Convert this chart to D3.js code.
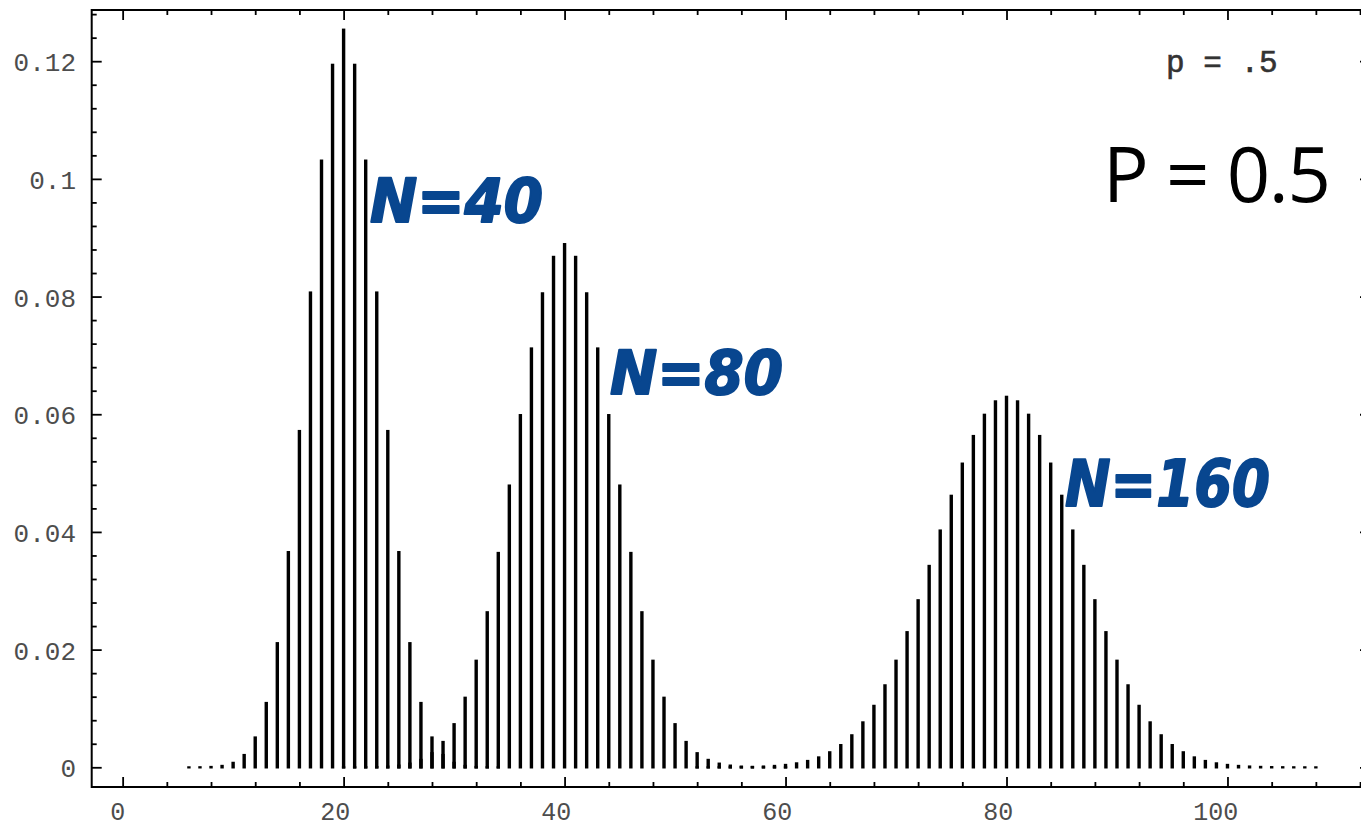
<!DOCTYPE html>
<html>
<head>
<meta charset="utf-8">
<script src="https://cdn.jsdelivr.net/npm/d3@7"></script>
<style>
  body { margin: 0; background: #fff; }
  svg { display: block; }
</style>
</head>
<body>
<div id="chart"></div>
<script>
// binomial probabilities, p = 0.5
const n40First = 6;
const n40Values = [
  0.0000035, 0.0000170, 0.0000699, 0.000249, 0.000771, 0.002103, 0.005081,
  0.010944, 0.021107, 0.036585, 0.057164, 0.080702, 0.103119, 0.119401,
  0.125371,
  0.119401, 0.103119, 0.080702, 0.057164, 0.036585, 0.021107, 0.010944,
  0.005081, 0.002103, 0.000771, 0.000249, 0.0000699, 0.0000170, 0.0000035
];

const n80First = 20;
const n80Values = [
  0.0000029, 0.0000084, 0.0000224, 0.0000565, 0.000134, 0.000301, 0.000636,
  0.001272, 0.002407, 0.004317, 0.007338, 0.011836, 0.018124, 0.026362,
  0.036441, 0.047894, 0.059867, 0.071194, 0.080562, 0.086759,
  0.088928,
  0.086759, 0.080562, 0.071194, 0.059867, 0.047894, 0.036441, 0.026362,
  0.018124, 0.011836, 0.007338, 0.004317, 0.002407, 0.001272, 0.000636,
  0.000301, 0.000134, 0.0000565, 0.0000224, 0.0000084, 0.0000029
];

const n160First = 52;
const n160Values = [
  0.0000030, 0.0000061, 0.0000122, 0.0000235, 0.0000440, 0.0000803, 0.000143,
  0.000247, 0.000416, 0.000681, 0.001088, 0.001692, 0.002564, 0.003786,
  0.005450, 0.007646, 0.010457, 0.013943, 0.018126, 0.022977, 0.028402,
  0.034238, 0.040253, 0.046157, 0.051623, 0.056316, 0.059926, 0.062202,
  0.062979,
  0.062202, 0.059926, 0.056316, 0.051623, 0.046157, 0.040253, 0.034238,
  0.028402, 0.022977, 0.018126, 0.013943, 0.010457, 0.007646, 0.005450,
  0.003786, 0.002564, 0.001692, 0.001088, 0.000681, 0.000416, 0.000247,
  0.000143, 0.0000803, 0.0000440, 0.0000235, 0.0000122, 0.0000061, 0.0000030
];

const xTickValues = [0, 20, 40, 60, 80, 100];
const xTickLabels = ["0", "20", "40", "60", "80", "100"];
const yTickValues = [0, 0.02, 0.04, 0.06, 0.08, 0.1, 0.12];
const yTickLabels = ["0", "0.02", "0.04", "0.06", "0.08", "0.1", "0.12"];

const seriesLabels = ["N=40", "N=80", "N=160"];
const smallLabel = "p = .5";
const bigLabel = "P = 0.5";

const width = 1361;
const height = 828;

const x = d3.scaleLinear().domain([-2.8, 112.9]).range([91.7, 1370]);
const y = d3.scaleLinear().domain([-0.00335, 0.1287]).range([787, 10]);

const svg = d3.select('#chart')
    .append('svg')
    .attr('width', width)
    .attr('height', height);

svg.append('rect')
    .attr('width', width)
    .attr('height', height)
    .attr('fill', '#fff');

// bars, one series after another
const series = [
    { first: n40First, values: n40Values },
    { first: n80First, values: n80Values },
    { first: n160First, values: n160Values }
];
const points = [];
series.forEach(s => s.values.forEach((v, i) => points.push({ k: s.first + i, v: v })));

svg.append('g')
    .selectAll('rect')
    .data(points)
    .enter()
    .append('rect')
        .attr('x', d => x(d.k) - 1.7)
        .attr('width', 3.4)
        .attr('y', d => y(d.v) - 1)
        .attr('height', d => y(0) - y(d.v) + 2.2)
        .attr('fill', '#000');

// frame and ticks
const xMinor = d3.range(4, 113, 4).filter(v => v % 20 !== 0);
const yMinor = d3.range(0.004, 0.1285, 0.004).filter(v => Math.abs(v / 0.02 - Math.round(v / 0.02)) > 1e-6);

const tickStyle = g => {
    g.select('.domain').remove();
    g.selectAll('line').attr('stroke', '#000').attr('stroke-width', 1.8);
};

// bottom
svg.append('g')
    .attr('transform', `translate(0,${y.range()[0]})`)
    .call(d3.axisTop(x).tickValues(xTickValues).tickSize(10).tickFormat(''))
    .call(tickStyle);
svg.append('g')
    .attr('transform', `translate(0,${y.range()[0]})`)
    .call(d3.axisTop(x).tickValues(xMinor).tickSize(5).tickFormat(''))
    .call(tickStyle);
// top
svg.append('g')
    .attr('transform', `translate(0,${y.range()[1]})`)
    .call(d3.axisBottom(x).tickValues(xTickValues).tickSize(10).tickFormat(''))
    .call(tickStyle);
svg.append('g')
    .attr('transform', `translate(0,${y.range()[1]})`)
    .call(d3.axisBottom(x).tickValues(xMinor).tickSize(5).tickFormat(''))
    .call(tickStyle);
// left
svg.append('g')
    .attr('transform', `translate(${x.range()[0]},0)`)
    .call(d3.axisRight(y).tickValues(yTickValues).tickSize(10).tickFormat(''))
    .call(tickStyle);
svg.append('g')
    .attr('transform', `translate(${x.range()[0]},0)`)
    .call(d3.axisRight(y).tickValues(yMinor).tickSize(5).tickFormat(''))
    .call(tickStyle);
// right
svg.append('g')
    .attr('transform', `translate(${x.range()[1]},0)`)
    .call(d3.axisLeft(y).tickValues(yTickValues).tickSize(10).tickFormat(''))
    .call(tickStyle);

svg.append('rect')
    .attr('x', x.range()[0])
    .attr('y', y.range()[1])
    .attr('width', x.range()[1] - x.range()[0])
    .attr('height', y.range()[0] - y.range()[1])
    .attr('fill', 'none')
    .attr('stroke', '#000')
    .attr('stroke-width', 2);

// tick labels
svg.append('g')
    .selectAll('text')
    .data(xTickValues)
    .enter()
    .append('text')
        .attr('x', d => x(d))
        .attr('dx', (d, i) => -(1.5 + 3.4 * xTickLabels[i].length))
        .attr('y', 820)
        .attr('text-anchor', 'middle')
        .style('font-family', 'Liberation Mono')
        .style('font-size', '25px')
        .attr('fill', '#4d4d4d')
        .text((d, i) => xTickLabels[i]);

svg.append('g')
    .selectAll('text')
    .data(yTickValues)
    .enter()
    .append('text')
        .attr('x', 76)
        .attr('y', d => y(d) + 10)
        .attr('text-anchor', 'end')
        .style('font-family', 'Liberation Mono')
        .style('font-size', '26px')
        .attr('fill', '#4d4d4d')
        .text((d, i) => yTickLabels[i]);

// plot label and annotations
svg.append('text')
    .attr('x', 1166)
    .attr('y', 72)
    .style('font-family', 'Liberation Mono')
    .style('font-size', '31px')
    .attr('fill', '#333')
    .attr('stroke', '#333')
    .attr('stroke-width', 0.6)
    .text(smallLabel);

svg.append('text')
    .attr('x', 1103)
    .attr('y', 202)
    .attr('textLength', 228)
    .attr('lengthAdjust', 'spacing')
    .style('font-family', 'Open Sans')
    .style('font-size', '76px')
    .attr('fill', '#000')
    .text(bigLabel);

const noteSpots = [
    { x: 370, y: 222, w: 173, size: 60 },
    { x: 610, y: 394, w: 173, size: 60 },
    { x: 1065, y: 506, w: 205, size: 64 }
];
svg.append('g')
    .selectAll('text')
    .data(seriesLabels)
    .enter()
    .append('text')
        .attr('x', (d, i) => noteSpots[i].x)
        .attr('y', (d, i) => noteSpots[i].y)
        .attr('textLength', (d, i) => noteSpots[i].w)
        .attr('lengthAdjust', 'spacingAndGlyphs')
        .style('font-family', 'DejaVu Sans')
        .style('font-size', (d, i) => noteSpots[i].size + 'px')
        .style('font-weight', 'bold')
        .style('font-style', 'italic')
        .attr('fill', '#08468f')
        .attr('stroke', '#08468f')
        .attr('stroke-width', 2)
        .attr('stroke-linejoin', 'round')
        .text(d => d);
</script>
</body>
</html>
